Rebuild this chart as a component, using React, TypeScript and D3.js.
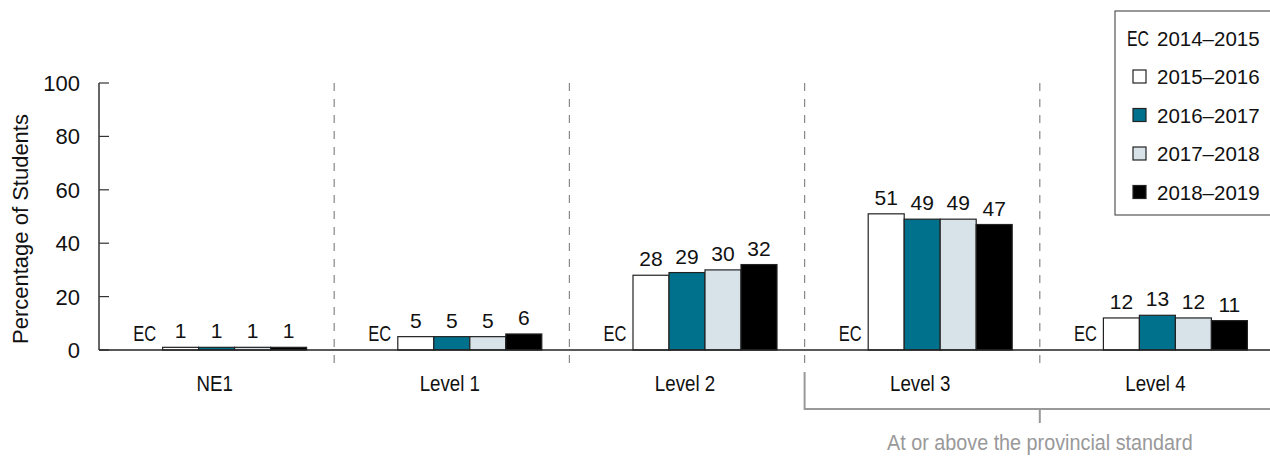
import React from "react";
import * as d3 from "d3";

const categories = ["NE1", "Level 1", "Level 2", "Level 3", "Level 4"];
const seriesNames = ["2014–2015", "2015–2016", "2016–2017", "2017–2018", "2018–2019"];
const seriesColors = ["none", "#ffffff", "#00718c", "#d8e3e9", "#000000"];
// null = EC (excluded/not reported)
const s2014: (number | null)[] = [null, null, null, null, null];
const s2015: (number | null)[] = [1, 5, 28, 51, 12];
const s2016: (number | null)[] = [1, 5, 29, 49, 13];
const s2017: (number | null)[] = [1, 5, 30, 49, 12];
const s2018: (number | null)[] = [1, 6, 32, 47, 11];
const seriesValues = [s2014, s2015, s2016, s2017, s2018];
const yTicks = [0, 20, 40, 60, 80, 100];

const FONT = "'Liberation Sans', Arial, Helvetica, sans-serif";

function Cond({ x, y, sx, size, fill = "#111", anchor = "middle", children }: any) {
  return (
    <text transform={`translate(${x},${y}) scale(${sx},1)`} textAnchor={anchor} fontFamily={FONT} fontSize={size} fill={fill}>
      {children}
    </text>
  );
}

export default function App() {
  const W = 1270, H = 456;
  const left = 99, right = 1275, top = 83, bottom = 350;
  const x = d3.scaleBand<string>().domain(categories).range([left, right]).paddingInner(0).paddingOuter(0);
  const y = d3.scaleLinear().domain([0, 100]).range([bottom, top]);
  const barW = 36;
  const groupInner = barW * seriesNames.length;
  const slotX = (cat: string, i: number) => (x(cat) as number) + (x.bandwidth() - groupInner) / 2 + i * barW;

  return (
    <svg width={W} height={H} style={{ position: "absolute", left: 0, top: 0 }}>
      <rect width={W} height={H} fill="#fff" />
      {/* dividers */}
      {categories.slice(1).map((c) => (
        <line key={c} x1={x(c)} x2={x(c)} y1={top} y2={368} stroke="#888" strokeWidth={1.2} strokeDasharray="8,8" />
      ))}
      {/* y axis */}
      <line x1={left} x2={left} y1={top} y2={bottom} stroke="#333" strokeWidth={1.5} />
      {yTicks.map((t) => (
        <g key={t}>
          <line x1={left} x2={left + 10} y1={y(t)} y2={y(t)} stroke="#333" strokeWidth={1.2} />
          <text x={80} y={y(t) + 8} textAnchor="end" fontFamily={FONT} fontSize={22} fill="#111">{t}</text>
        </g>
      ))}
      <text transform={`translate(28,229) rotate(-90)`} textAnchor="middle" fontFamily={FONT} fontSize={22} fill="#111">
        Percentage of Students
      </text>
      {/* bars */}
      {categories.map((c, ci) => (
        <g key={c}>
          {seriesValues.map((arr, si) => {
            const v = arr[ci];
            const bx = slotX(c, si);
            if (v === null) {
              return (
                <Cond key={si} x={bx + barW / 2} y={bottom - 9} sx={0.75} size={22}>EC</Cond>
              );
            }
            return (
              <g key={si}>
                <rect x={bx} y={y(v)} width={barW} height={bottom - y(v)} fill={seriesColors[si]} stroke="#222" strokeWidth={1.2} />
                <text x={bx + barW / 2} y={Math.min(y(v) - 9, bottom - 9)} textAnchor="middle" fontFamily={FONT} fontSize={21} fill="#111">{v}</text>
              </g>
            );
          })}
          <Cond x={(x(c) as number) + x.bandwidth() / 2 - 2} y={391} sx={0.85} size={22}>{c}</Cond>
        </g>
      ))}
      {/* baseline */}
      <line x1={left} x2={W} y1={bottom} y2={bottom} stroke="#222" strokeWidth={1.5} />
      {/* bracket */}
      <path d={`M${x("Level 3")},372 V409 H${W}`} fill="none" stroke="#999" strokeWidth={2} />
      <line x1={x("Level 4")} x2={x("Level 4")} y1={409} y2={423} stroke="#999" strokeWidth={2} />
      <Cond x={x("Level 4")} y={450} sx={0.9} size={22} fill="#999">At or above the provincial standard</Cond>
      {/* legend */}
      <rect x={1115} y={11} width={170} height={204} fill="#fff" stroke="#555" strokeWidth={1.2} />
      {seriesNames.map((n, i) => {
        const ly = 38 + i * 38.5;
        return (
          <g key={n}>
            {i === 0 ? (
              <Cond x={1138} y={ly + 8} sx={0.72} size={22}>EC</Cond>
            ) : (
              <rect x={1133} y={ly - 6.5} width={13} height={13} fill={seriesColors[i]} stroke="#222" strokeWidth={1.2} />
            )}
            <text x={1157} y={ly + 7.5} fontFamily={FONT} fontSize={20.5} fill="#111">{n}</text>
          </g>
        );
      })}
    </svg>
  );
}
